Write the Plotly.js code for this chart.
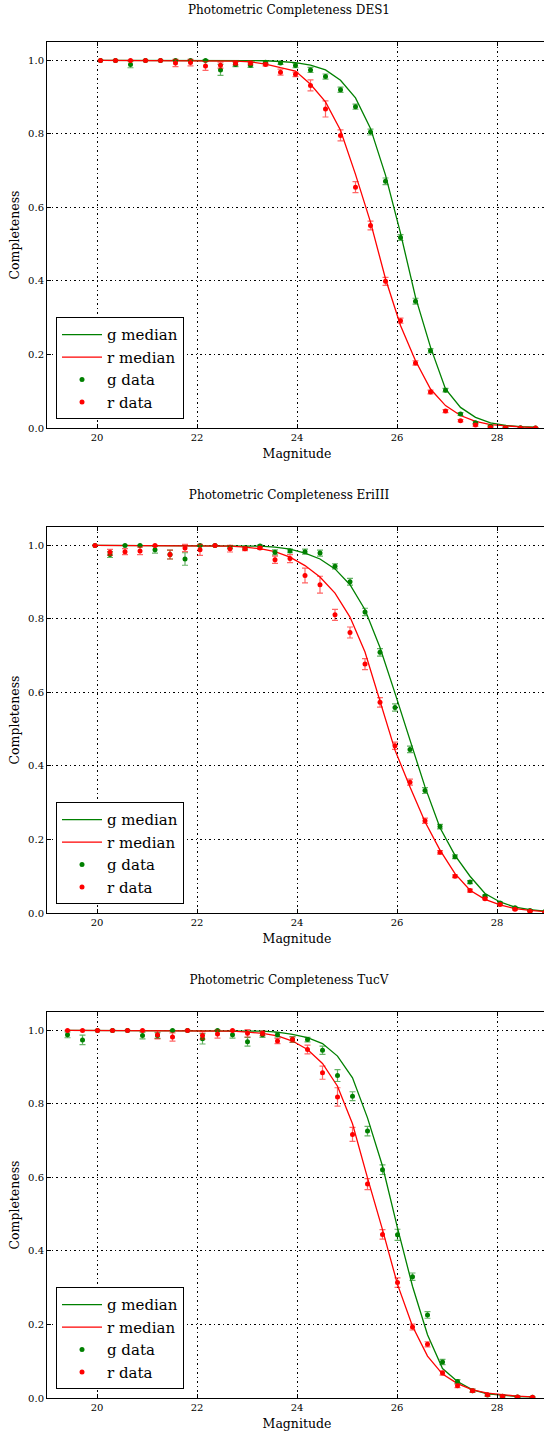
<!DOCTYPE html>
<html>
<head>
<meta charset="utf-8">
<script src="https://cdn.plot.ly/plotly-3.0.1.min.js"></script>
<style>
html,body{margin:0;padding:0;background:#fff;width:544px;height:1436px;overflow:hidden;}
.panel{position:absolute;left:0;width:548px;height:486px;}
</style>
</head>
<body>
<div id="p1" class="panel" style="top:0px"></div>
<div id="p2" class="panel" style="top:485px"></div>
<div id="p3" class="panel" style="top:970px"></div>
<script>
// ---------- DES1 ----------
const titleDES1 = "Photometric Completeness DES1";
const magDES1 = [20.07,20.37,20.67,20.97,21.27,21.57,21.87,22.17,22.47,22.77,23.07,23.37,23.67,23.97,24.27,24.57,24.87,25.17,25.47,25.77,26.07,26.37,26.67,26.97,27.27,27.57,27.87,28.17,28.47,28.77];
const gMedDES1 = [1.0,1.0,1.0,1.0,1.0,1.0,1.0,1.0,1.0,1.0,1.0,0.999,0.997,0.994,0.987,0.974,0.946,0.898,0.815,0.688,0.53,0.356,0.22,0.106,0.056,0.029,0.014,0.007,0.004,0.002];
const rMedDES1 = [1.0,1.0,1.0,1.0,1.0,1.0,1.0,1.0,1.0,0.998,0.996,0.99,0.98,0.971,0.935,0.887,0.81,0.69,0.56,0.406,0.279,0.183,0.106,0.061,0.034,0.018,0.009,0.005,0.003,0.001];
const gDataDES1 = [1.0,1.0,0.989,1.0,1.0,1.0,1.0,1.0,0.974,0.989,0.987,0.995,0.993,0.986,0.974,0.956,0.92,0.874,0.805,0.671,0.518,0.345,0.21,0.103,0.038,0.014,0.005,0.002,0.001,0.0];
const gErrDES1 = [0,0,0.009,0,0,0,0,0.002,0.015,0.006,0.006,0.004,0.004,0.006,0.007,0.007,0.007,0.007,0.008,0.009,0.008,0.008,0.006,0.005,0.004,0.003,0.002,0.001,0.001,0.001];
const rDataDES1 = [1.0,1.0,1.0,1.0,1.0,0.993,0.994,0.985,0.987,0.993,0.993,0.989,0.968,0.962,0.932,0.868,0.796,0.655,0.551,0.399,0.292,0.177,0.098,0.046,0.02,0.008,0.002,0.001,0.0,0.0];
const rErrDES1 = [0,0,0,0,0,0.01,0.009,0.012,0.008,0.005,0.005,0.004,0.008,0.006,0.015,0.022,0.015,0.015,0.012,0.011,0.007,0.006,0.005,0.004,0.003,0.003,0.002,0.001,0.001,0.001];

// ---------- EriIII ----------
const titleEriIII = "Photometric Completeness EriIII";
const magEriIII = [19.96,20.26,20.56,20.86,21.16,21.46,21.76,22.06,22.36,22.66,22.96,23.26,23.56,23.86,24.16,24.46,24.76,25.06,25.36,25.66,25.96,26.26,26.56,26.86,27.16,27.46,27.76,28.06,28.36,28.66,28.96];
const gMedEriIII = [1.0,1.0,1.0,1.0,1.0,1.0,1.0,1.0,1.0,1.0,1.0,0.998,0.995,0.99,0.979,0.963,0.936,0.893,0.825,0.722,0.598,0.471,0.343,0.232,0.157,0.1,0.053,0.03,0.016,0.009,0.005];
const rMedEriIII = [1.0,1.0,1.0,1.0,1.0,1.0,1.0,1.0,1.0,0.998,0.995,0.991,0.983,0.968,0.945,0.914,0.87,0.805,0.71,0.575,0.443,0.343,0.248,0.171,0.107,0.062,0.037,0.022,0.012,0.007,0.004];
const gDataEriIII = [1.0,0.975,1.0,1.0,0.988,0.975,0.963,1.0,1.0,0.995,0.993,0.998,0.981,0.985,0.983,0.979,0.943,0.901,0.819,0.709,0.559,0.445,0.333,0.235,0.153,0.084,0.046,0.027,0.014,0.007,0.004];
const gErrEriIII = [0,0.008,0,0,0.009,0.012,0.017,0,0,0.004,0.004,0.003,0.007,0.005,0.007,0.008,0.007,0.009,0.01,0.01,0.01,0.009,0.008,0.006,0.005,0.004,0.003,0.003,0.002,0.002,0.001];
const rDataEriIII = [1.0,0.981,0.983,0.985,1.0,0.975,0.993,0.988,1.0,0.991,0.991,0.993,0.961,0.964,0.918,0.893,0.811,0.763,0.677,0.573,0.455,0.356,0.251,0.165,0.1,0.061,0.039,0.023,0.01,0.005,0.002];
const rErrEriIII = [0,0.008,0.008,0.01,0,0.012,0.01,0.015,0,0.009,0.005,0.004,0.01,0.011,0.02,0.023,0.015,0.015,0.015,0.013,0.01,0.008,0.007,0.005,0.004,0.004,0.003,0.003,0.002,0.002,0.001];

// ---------- TucV ----------
const titleTucV = "Photometric Completeness TucV";
const magTucV = [19.41,19.71,20.01,20.31,20.61,20.91,21.21,21.51,21.81,22.11,22.41,22.71,23.01,23.31,23.61,23.91,24.21,24.51,24.81,25.11,25.41,25.71,26.01,26.31,26.61,26.91,27.21,27.51,27.81,28.11,28.41,28.71];
const gMedTucV = [1.0,1.0,1.0,1.0,1.0,1.0,1.0,1.0,1.0,1.0,1.0,1.0,0.999,0.998,0.995,0.989,0.98,0.964,0.93,0.871,0.762,0.631,0.463,0.304,0.172,0.08,0.045,0.022,0.011,0.007,0.004,0.003];
const rMedTucV = [1.0,1.0,1.0,1.0,1.0,1.0,1.0,1.0,1.0,1.0,1.0,0.998,0.995,0.992,0.985,0.971,0.948,0.91,0.848,0.746,0.599,0.458,0.309,0.195,0.114,0.065,0.039,0.022,0.013,0.008,0.005,0.003];
const gDataTucV = [0.988,0.974,1.0,1.0,1.0,0.986,0.986,1.0,1.0,0.977,1.0,0.988,0.969,0.988,0.988,0.975,0.975,0.946,0.877,0.821,0.726,0.621,0.444,0.33,0.226,0.098,0.045,0.02,0.008,0.005,0.003,0.002];
const gErrTucV = [0.008,0.013,0,0,0,0.009,0.008,0,0,0.014,0,0.009,0.012,0.007,0.006,0.008,0.006,0.011,0.016,0.012,0.013,0.013,0.015,0.01,0.009,0.007,0.005,0.004,0.003,0.002,0.002,0.001];
const rDataTucV = [1.0,1.0,1.0,1.0,1.0,1.0,0.988,0.982,1.0,0.986,0.99,1.0,0.992,0.992,0.971,0.975,0.948,0.885,0.819,0.717,0.582,0.445,0.314,0.193,0.146,0.068,0.033,0.02,0.009,0.005,0.003,0.002];
const rErrTucV = [0,0,0,0,0,0,0.011,0.011,0,0.01,0.011,0,0.01,0.006,0.007,0.007,0.012,0.018,0.025,0.019,0.015,0.013,0.013,0.008,0.007,0.006,0.005,0.004,0.003,0.002,0.002,0.001];

const xTitle = "Magnitude";
const yTitle = "Completeness";
const legendNames = ["g median","r median","g data","r data"];

const FONT = "DejaVu Serif, Liberation Serif, serif";
const GREEN = "#008000", RED = "#ff0000";
const GREEN_ERR = "rgba(0,128,0,0.6)", RED_ERR = "rgba(255,0,0,0.6)";

function axisBase() {
  return {
    showline: true, linecolor: "#000", linewidth: 1, mirror: "ticks",
    ticks: "inside", ticklen: 4, tickcolor: "#000", tickwidth: 1,
    showgrid: true, gridcolor: "#000", gridwidth: 1, griddash: "1.5px,3px",
    zeroline: false, tickfont: {family: FONT, size: 10, color: "#000"},
    automargin: false, fixedrange: true
  };
}

function draw(id, title, mag, gMed, rMed, gData, gErr, rData, rErr) {
  const traces = [
    {x: mag, y: gMed, mode: "lines", name: legendNames[0], line: {color: GREEN, width: 1.3}},
    {x: mag, y: rMed, mode: "lines", name: legendNames[1], line: {color: RED, width: 1.3}},
    {x: mag, y: gData, mode: "markers", name: legendNames[2],
     marker: {color: GREEN, size: 5},
     error_y: {type: "data", array: gErr, visible: true, color: GREEN_ERR, thickness: 1.2, width: 3}},
    {x: mag, y: rData, mode: "markers", name: legendNames[3],
     marker: {color: RED, size: 5},
     error_y: {type: "data", array: rErr, visible: true, color: RED_ERR, thickness: 1.2, width: 3}}
  ];
  const xa = Object.assign(axisBase(), {
    range: [19, 29], tick0: 20, dtick: 2,
    title: {text: xTitle, font: {family: FONT, size: 12.5, color: "#000"}, standoff: 7}
  });
  const ya = Object.assign(axisBase(), {
    range: [0, 1.05], tick0: 0, dtick: 0.2, tickformat: ".1f",
    title: {text: yTitle, font: {family: FONT, size: 12.5, color: "#000"}, standoff: 5}
  });
  const layout = {
    width: 548, height: 486,
    margin: {l: 47, r: 1, t: 42, b: 58},
    paper_bgcolor: "#fff", plot_bgcolor: "#fff",
    title: {text: title, font: {family: FONT, size: 12, color: "#000"},
            x: 289/548, xref: "container", xanchor: "center",
            y: 1 - 10/486, yref: "container", yanchor: "middle"},
    xaxis: xa, yaxis: ya,
    showlegend: true,
    legend: {x: 0.018, y: 0.0225, xanchor: "left", yanchor: "bottom",
             bordercolor: "#000", borderwidth: 1, bgcolor: "#fff",
             font: {family: FONT, size: 15, color: "#000"}, itemwidth: 40, tracegroupgap: 0}
  };
  Plotly.newPlot(id, traces, layout, {displayModeBar: false, staticPlot: true});
}

draw("p1", titleDES1, magDES1, gMedDES1, rMedDES1, gDataDES1, gErrDES1, rDataDES1, rErrDES1);
draw("p2", titleEriIII, magEriIII, gMedEriIII, rMedEriIII, gDataEriIII, gErrEriIII, rDataEriIII, rErrEriIII);
draw("p3", titleTucV, magTucV, gMedTucV, rMedTucV, gDataTucV, gErrTucV, rDataTucV, rErrTucV);
</script>
</body>
</html>
